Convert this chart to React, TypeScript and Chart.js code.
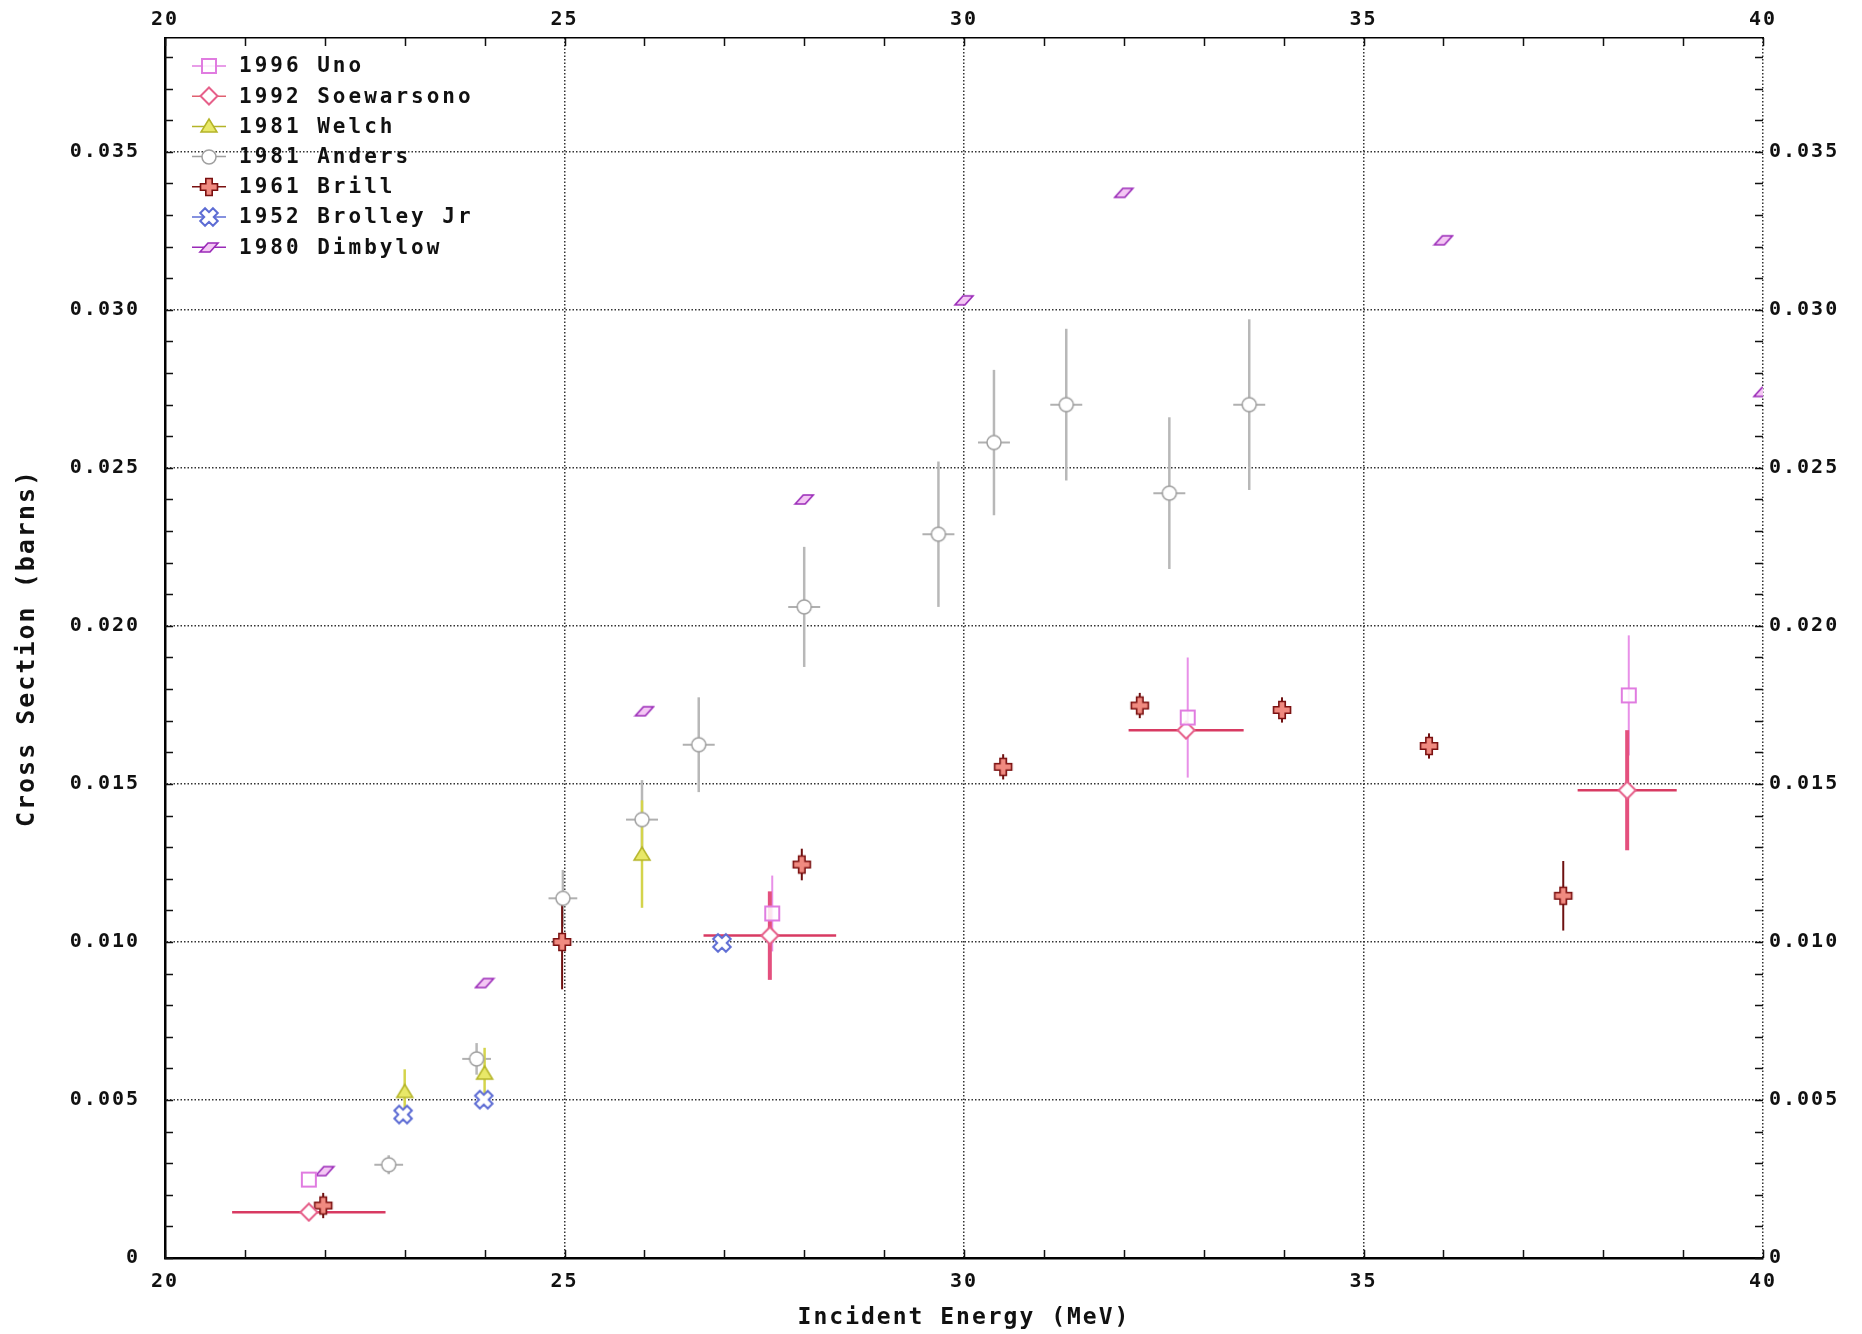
import React, { useEffect, useRef } from 'react';
import { Chart, registerables } from 'chart.js';

Chart.register(...registerables);

// ---------- axes ----------
const xRange = [20, 40];
const yRange = [0, 0.0386];
const xMajorTicks = [20, 25, 30, 35, 40];
const xTickLabels = ['20', '25', '30', '35', '40'];
const yMajorTicks = [0, 0.005, 0.01, 0.015, 0.02, 0.025, 0.03, 0.035];
const yTickLabels = ['0', '0.005', '0.010', '0.015', '0.020', '0.025', '0.030', '0.035'];
const xMinorTicks = [21, 22, 23, 24, 26, 27, 28, 29, 31, 32, 33, 34, 36, 37, 38, 39];
const yMinorTicks = [0.001, 0.002, 0.003, 0.004, 0.006, 0.007, 0.008, 0.009, 0.011, 0.012, 0.013, 0.014,
  0.016, 0.017, 0.018, 0.019, 0.021, 0.022, 0.023, 0.024, 0.026, 0.027, 0.028, 0.029, 0.031, 0.032,
  0.033, 0.034, 0.036, 0.037, 0.038];
const xTitle = 'Incident Energy (MeV)';
const yTitle = 'Cross Section (barns)';

// ---------- series ----------
const seriesNames = ['1996 Uno', '1992 Soewarsono', '1981 Welch', '1981 Anders', '1961 Brill', '1952 Brolley Jr', '1980 Dimbylow'];

const unoE = [21.8, 27.6, 32.8, 38.32];
const unoCS = [0.00248, 0.0109, 0.0171, 0.0178];
const unoDCS = [0, 0.0012, 0.0019, 0.0019];

const soeE = [21.8, 27.57, 32.78, 38.3];
const soeCS = [0.00145, 0.0102, 0.0167, 0.0148];
const soeDE = [0.96, 0.83, 0.72, 0.62];
const soeDCS = [0, 0.0014, 0, 0.0019];

const welchE = [23.0, 24.0, 25.97];
const welchCS = [0.00527, 0.00585, 0.01278];
const welchDCS = [0.0007, 0.0008, 0.0017];

const andersE = [22.8, 23.9, 24.98, 25.97, 26.68, 28.0, 29.68, 30.375, 31.28, 32.57, 33.57];
const andersCS = [0.00295, 0.0063, 0.01138, 0.01387, 0.01624, 0.0206, 0.0229, 0.0258, 0.027, 0.0242, 0.027];
const andersDE = [0.18, 0.18, 0.18, 0.2, 0.2, 0.2, 0.2, 0.2, 0.2, 0.2, 0.2];
const andersDCS = [0.0003, 0.0005, 0.0009, 0.00125, 0.0015, 0.0019, 0.0023, 0.0023, 0.0024, 0.0024, 0.0027];

const brillE = [21.98, 24.97, 27.97, 30.49, 32.2, 33.98, 35.82, 37.5];
const brillCS = [0.00166, 0.01, 0.01245, 0.01554, 0.01748, 0.01734, 0.0162, 0.01146];
const brillDCS = [0.0004, 0.0015, 0.0005, 0.0004, 0.0004, 0.0004, 0.0004, 0.0011];

const brolleyE = [22.98, 23.99, 26.97];
const brolleyCS = [0.00454, 0.00501, 0.00997];

const dimbE = [22.0, 24.0, 26.0, 28.0, 30.0, 32.0, 36.0, 40.0];
const dimbCS = [0.00275, 0.0087, 0.0173, 0.024, 0.0303, 0.0337, 0.0322, 0.0274];

// ---------- helpers ----------
const monoFont = '"DejaVu Sans Mono", "Liberation Mono", monospace';

function makeCanvas(w: number, h: number, draw: (c: CanvasRenderingContext2D) => void) {
  const cv = document.createElement('canvas');
  cv.width = w;
  cv.height = h;
  const c = cv.getContext('2d') as CanvasRenderingContext2D;
  draw(c);
  return cv;
}

function crossPath(c: CanvasRenderingContext2D, a: number, L: number) {
  const p = [
    [-a, -L], [a, -L], [a, -a], [L, -a], [L, a], [a, a], [a, L], [-a, L], [-a, a], [-L, a], [-L, -a], [-a, -a],
  ];
  c.beginPath();
  p.forEach(([px, py], i) => (i ? c.lineTo(px, py) : c.moveTo(px, py)));
  c.closePath();
}

function buildMarkers() {
  const uno = makeCanvas(18, 18, (c) => {
    c.fillStyle = 'rgba(255,255,255,0.85)';
    c.fillRect(2, 2, 14, 14);
    c.strokeStyle = '#e07ce0';
    c.lineWidth = 2;
    c.strokeRect(2, 2, 14, 14);
  });
  const soe = makeCanvas(20, 20, (c) => {
    c.beginPath();
    c.moveTo(10, 1.5); c.lineTo(18.5, 10); c.lineTo(10, 18.5); c.lineTo(1.5, 10); c.closePath();
    c.fillStyle = '#fff'; c.fill();
    c.strokeStyle = '#e6608a'; c.lineWidth = 2; c.stroke();
  });
  const welch = makeCanvas(20, 18, (c) => {
    c.beginPath();
    c.moveTo(10, 2); c.lineTo(18, 15); c.lineTo(2, 15); c.closePath();
    c.fillStyle = '#e8e868'; c.fill();
    c.strokeStyle = '#b4b428'; c.lineWidth = 1.5; c.stroke();
  });
  const anders = makeCanvas(18, 18, (c) => {
    c.beginPath(); c.arc(9, 9, 7, 0, Math.PI * 2);
    c.fillStyle = '#fff'; c.fill();
    c.strokeStyle = '#a0a0a0'; c.lineWidth = 1.5; c.stroke();
  });
  const brill = makeCanvas(22, 22, (c) => {
    c.translate(11, 11);
    crossPath(c, 3.2, 8.5);
    c.fillStyle = '#f08a80'; c.fill();
    c.strokeStyle = '#7a1010'; c.lineWidth = 1.6; c.stroke();
  });
  const brolley = makeCanvas(24, 24, (c) => {
    c.translate(12, 12);
    c.rotate(Math.PI / 4);
    crossPath(c, 3.4, 9);
    c.fillStyle = '#fff'; c.fill();
    c.strokeStyle = '#5d6cd4'; c.lineWidth = 2; c.stroke();
  });
  const dimb = makeCanvas(22, 13, (c) => {
    c.beginPath();
    c.moveTo(2, 11); c.lineTo(12, 11); c.lineTo(20, 2); c.lineTo(10, 2); c.closePath();
    c.fillStyle = '#f4c8f4'; c.fill();
    c.strokeStyle = '#9a2ab8'; c.lineWidth = 1.6; c.stroke();
  });
  return { uno, soe, welch, anders, brill, brolley, dimb };
}

const pts = (xs: number[], ys: number[]) => xs.map((x, i) => ({ x, y: ys[i] }));

export default function App() {
  const ref = useRef<HTMLCanvasElement>(null);

  useEffect(() => {
    document.body.style.margin = '0';
    document.body.style.background = '#fff';
    const canvas = ref.current as HTMLCanvasElement;
    const m = buildMarkers();

    const errorSeries = [
      { xs: andersE, ys: andersCS, dx: andersDE, dy: andersDCS, xColor: '#b0b0b0', yColor: '#b8b8b8', xWidth: 2, yWidth: 2.5 },
      { xs: welchE, ys: welchCS, dx: null, dy: welchDCS, xColor: '', yColor: '#d4d44c', xWidth: 0, yWidth: 2.5 },
      { xs: unoE, ys: unoCS, dx: null, dy: unoDCS, xColor: '', yColor: '#e890e8', xWidth: 0, yWidth: 2 },
      { xs: soeE, ys: soeCS, dx: soeDE, dy: soeDCS, xColor: '#d83a62', yColor: '#e4507e', xWidth: 2.5, yWidth: 4 },
      { xs: brillE, ys: brillCS, dx: null, dy: brillDCS, xColor: '', yColor: '#6e1010', xWidth: 0, yWidth: 2 },
    ];

    const legendEntries = [
      { marker: m.uno, line: '#e07ce0' },
      { marker: m.soe, line: '#e06070' },
      { marker: m.welch, line: '#b4b428' },
      { marker: m.anders, line: '#a0a0a0' },
      { marker: m.brill, line: '#7a1010' },
      { marker: m.brolley, line: '#5d6cd4' },
      { marker: m.dimb, line: '#9a2ab8' },
    ];

    const spacingPlugin = {
      id: 'spacing',
      beforeUpdate(chart: any) { chart.ctx.letterSpacing = '2px'; },
      beforeDraw(chart: any) {
        const ctx = chart.ctx;
        ctx.save();
        ctx.fillStyle = '#fff';
        ctx.fillRect(0, 0, chart.width, chart.height);
        ctx.restore();
        ctx.letterSpacing = '2px';
      },
    };

    const errorBarPlugin = {
      id: 'errorBars',
      beforeDatasetsDraw(chart: any) {
        const { ctx, chartArea: a } = chart;
        const xs = chart.scales.x;
        const ys = chart.scales.y;
        ctx.save();
        ctx.beginPath();
        ctx.rect(a.left, a.top, a.right - a.left, a.bottom - a.top);
        ctx.clip();
        for (const s of errorSeries) {
          for (let i = 0; i < s.xs.length; i++) {
            const px = xs.getPixelForValue(s.xs[i]);
            const py = ys.getPixelForValue(s.ys[i]);
            if (s.dy && s.dy[i] > 0) {
              ctx.strokeStyle = s.yColor;
              ctx.lineWidth = s.yWidth;
              ctx.beginPath();
              ctx.moveTo(px, ys.getPixelForValue(s.ys[i] - s.dy[i]));
              ctx.lineTo(px, ys.getPixelForValue(s.ys[i] + s.dy[i]));
              ctx.stroke();
            }
            if (s.dx && s.dx[i] > 0) {
              ctx.strokeStyle = s.xColor;
              ctx.lineWidth = s.xWidth;
              ctx.beginPath();
              ctx.moveTo(xs.getPixelForValue(s.xs[i] - s.dx[i]), py);
              ctx.lineTo(xs.getPixelForValue(s.xs[i] + s.dx[i]), py);
              ctx.stroke();
            }
          }
        }
        ctx.restore();
      },
    };

    const minorTickPlugin = {
      id: 'minorTicks',
      beforeDatasetsDraw(chart: any) {
        const { ctx, chartArea: a } = chart;
        const xs = chart.scales.x;
        const ys = chart.scales.y;
        ctx.save();
        ctx.strokeStyle = '#111';
        ctx.lineWidth = 1.5;
        ctx.beginPath();
        for (const v of [...yMinorTicks, ...yMajorTicks]) {
          const py = Math.round(ys.getPixelForValue(v)) + 0.5;
          ctx.moveTo(a.left, py); ctx.lineTo(a.left + 8, py);
          ctx.moveTo(a.right, py); ctx.lineTo(a.right - 8, py);
        }
        for (const v of [...xMinorTicks, ...xMajorTicks]) {
          const px = Math.round(xs.getPixelForValue(v)) + 0.5;
          ctx.moveTo(px, a.bottom); ctx.lineTo(px, a.bottom - 8);
          ctx.moveTo(px, a.top); ctx.lineTo(px, a.top + 8);
        }
        ctx.stroke();
        ctx.restore();
      },
    };

    const legendPlugin = {
      id: 'customLegend',
      afterDatasetsDraw(chart: any) {
        const { ctx, chartArea: a } = chart;
        ctx.save();
        ctx.letterSpacing = '3px';
        ctx.font = `bold 21px ${monoFont}`;
        ctx.textBaseline = 'middle';
        ctx.textAlign = 'left';
        legendEntries.forEach((e, i) => {
          const cy = a.top + 28 + i * 30.2;
          const cx = a.left + 44;
          ctx.strokeStyle = e.line;
          ctx.lineWidth = 1.5;
          ctx.beginPath();
          ctx.moveTo(cx - 17, cy); ctx.lineTo(cx + 17, cy);
          ctx.stroke();
          ctx.drawImage(e.marker, Math.round(cx - e.marker.width / 2), Math.round(cy - e.marker.height / 2));
          ctx.fillStyle = '#111';
          ctx.fillText(seriesNames[i], a.left + 74, cy + 1);
        });
        ctx.restore();
      },
    };

    const tickFont = { family: monoFont, size: 20, weight: 'bold' as const };

    const chart = new Chart(canvas, {
      type: 'scatter',
      data: {
        datasets: [
          { label: seriesNames[0], data: pts(unoE, unoCS), pointStyle: m.uno },
          { label: seriesNames[1], data: pts(soeE, soeCS), pointStyle: m.soe },
          { label: seriesNames[2], data: pts(welchE, welchCS), pointStyle: m.welch },
          { label: seriesNames[3], data: pts(andersE, andersCS), pointStyle: m.anders },
          { label: seriesNames[4], data: pts(brillE, brillCS), pointStyle: m.brill },
          { label: seriesNames[5], data: pts(brolleyE, brolleyCS), pointStyle: m.brolley },
          { label: seriesNames[6], data: pts(dimbE, dimbCS), pointStyle: m.dimb, clip: 0 },
        ] as any,
      },
      options: {
        responsive: false,
        animation: false,
        events: [],
        devicePixelRatio: 1,
        layout: { padding: 0 },
        plugins: { legend: { display: false }, tooltip: { enabled: false } },
        scales: {
          x: {
            type: 'linear', position: 'bottom', min: xRange[0], max: xRange[1],
            afterFit: (s: any) => { s.height = 76; },
            afterBuildTicks: (s: any) => { s.ticks = xMajorTicks.map((v) => ({ value: v })); },
            ticks: { callback: (_v: any, i: number) => xTickLabels[i], font: tickFont, color: '#111', padding: 12, maxRotation: 0, autoSkip: false },
            grid: { color: '#333', lineWidth: 1.5, drawTicks: false },
            border: { display: true, color: '#000', width: 2.5, dash: [1.5, 2] },
            title: { display: true, text: xTitle, color: '#111', font: { family: monoFont, size: 23, weight: 'bold' }, padding: { top: 0, bottom: 2 } },
          },
          x2: {
            type: 'linear', position: 'top', min: xRange[0], max: xRange[1],
            afterFit: (s: any) => { s.height = 38; },
            afterBuildTicks: (s: any) => { s.ticks = xMajorTicks.map((v) => ({ value: v })); },
            ticks: { callback: (_v: any, i: number) => xTickLabels[i], font: tickFont, color: '#111', padding: 6, maxRotation: 0, autoSkip: false },
            grid: { display: false, drawTicks: false },
            border: { display: true, color: '#000', width: 1.5 },
          },
          y: {
            type: 'linear', position: 'left', min: yRange[0], max: yRange[1],
            afterFit: (s: any) => { s.width = 165; },
            afterBuildTicks: (s: any) => { s.ticks = yMajorTicks.map((v) => ({ value: v })); },
            ticks: { callback: (_v: any, i: number) => yTickLabels[i], font: tickFont, color: '#111', padding: 25, autoSkip: false },
            grid: { color: '#333', lineWidth: 1.5, drawTicks: false },
            border: { display: true, color: '#000', width: 2.5, dash: [1.5, 2] },
            title: { display: true, text: yTitle, color: '#111', font: { family: monoFont, size: 25, weight: 'bold' }, padding: { top: 12, bottom: 0 } },
          },
          y2: {
            type: 'linear', position: 'right', min: yRange[0], max: yRange[1],
            afterFit: (s: any) => { s.width = 99; },
            afterBuildTicks: (s: any) => { s.ticks = yMajorTicks.map((v) => ({ value: v })); },
            ticks: { callback: (_v: any, i: number) => yTickLabels[i], font: tickFont, color: '#111', padding: 6, autoSkip: false },
            grid: { display: false, drawTicks: false },
            border: { display: false },
          },
        } as any,
      },
      plugins: [spacingPlugin, errorBarPlugin, minorTickPlugin, legendPlugin],
    } as any);

    return () => chart.destroy();
  }, []);

  return (
    <canvas
      ref={ref}
      width={1862}
      height={1334}
      style={{ display: 'block', width: 1862, height: 1334 }}
    />
  );
}
